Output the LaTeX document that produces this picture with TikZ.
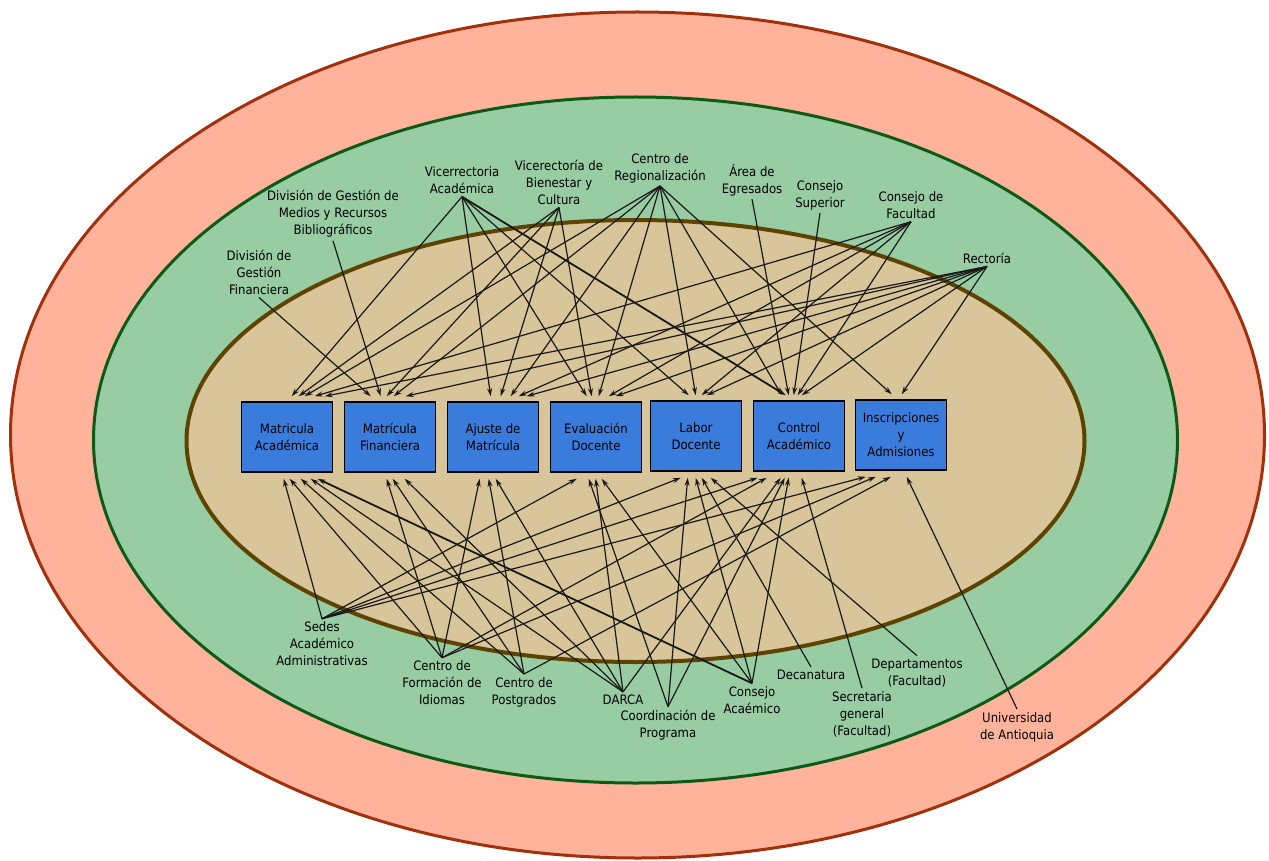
\documentclass[tikz,border=0pt]{standalone}
\usepackage{fontspec}
\setmainfont{DejaVu Sans}[FakeStretch=0.9]
\usetikzlibrary{arrows.meta}
\definecolor{outerfill}{HTML}{FFB39A}
\definecolor{outerline}{HTML}{A3300C}
\definecolor{greenfill}{HTML}{98CCA3}
\definecolor{greenline}{HTML}{0B5A16}
\definecolor{tanfill}{HTML}{D9C59A}
\definecolor{tanline}{HTML}{5E4300}
\definecolor{boxblue}{HTML}{3A7CDB}
\begin{document}
\begin{tikzpicture}[x=1pt,y=-1pt,
  lbl/.style={align=center,font=\fontsize{13}{17}\selectfont,inner sep=3pt,text=black},
  box/.style={draw=black,line width=1.6pt,fill=boxblue,minimum width=91pt,minimum height=70pt,align=center,font=\fontsize{13}{17}\selectfont,text=black},
  arr/.style={-{Stealth[length=8pt,width=5pt]},line width=1.2pt,black!90},
  thickarr/.style={arr,line width=1.8pt}]
\useasboundingbox (0,0) rectangle (1269,861);
\fill[white] (0,0) rectangle (1269,861);
\draw[fill=outerfill,draw=outerline,line width=3pt] (637.5,435) ellipse [x radius=627pt,y radius=423pt];
\draw[fill=greenfill,draw=greenline,line width=3pt] (635.5,440) ellipse [x radius=542pt,y radius=343pt];
\draw[fill=tanfill,draw=tanline,line width=4pt] (635.5,441) ellipse [x radius=449pt,y radius=221pt];

% boxes
\node[box] (b1) at (287,437) {Matricula\\Académica};
\node[box] (b2) at (390,437) {Matrícula\\Financiera};
\node[box] (b3) at (493,437) {Ajuste de\\Matrícula};
\node[box] (b4) at (596,437) {Evaluación\\Docente};
\node[box] (b5) at (696,436) {Labor\\Docente};
\node[box] (b6) at (799,436) {Control\\Académico};
\node[box] (b7) at (901,435) {Inscripciones\\y\\Admisiones};

% top labels
\node[lbl] (dgf) at (259,272) {División de\\Gestión\\Financiera};
\node[lbl] (dgm) at (333,214) {División de Gestión de\\Medios y Recursos\\Bibliográficos};
\node[lbl] (va) at (462,180) {Vicerrectoria\\Académica};
\node[lbl] (vbc) at (559,182) {Vicerectoría de\\Bienestar y\\Cultura};
\node[lbl] (cr) at (660,168) {Centro de\\Regionalización};
\node[lbl] (ae) at (752,180) {Área de\\Egresados};
\node[lbl] (cs) at (820,195) {Consejo\\Superior};
\node[lbl] (cf) at (911,205) {Consejo de\\Facultad};
\node[lbl] (rect) at (987,258) {Rectoría};

% bottom labels
\node[lbl] (sedes) at (322,644) {Sedes\\Académico\\Administrativas};
\node[lbl] (cfi) at (442,683) {Centro de\\Formación de\\Idiomas};
\node[lbl] (cp) at (524,692) {Centro de\\Postgrados};
\node[lbl] (darca) at (623,700) {DARCA};
\node[lbl] (coord) at (668,725) {Coordinación de\\Programa};
\node[lbl] (ca) at (752,700) {Consejo\\Acaémico};
\node[lbl] (dec) at (811,675) {Decanatura};
\node[lbl] (sec) at (862,714) {Secretaria\\general\\(Facultad)};
\node[lbl] (dep) at (917,673) {Departamentos\\(Facultad)};
\node[lbl] (udea) at (1017,727) {Universidad\\de Antioquia};

% top edges
\foreach \s/\b/\o in {va/b1/51, va/b3/44, va/b4/37, va/b5/39,
  vbc/b1/58, vbc/b2/43, vbc/b3/54, vbc/b4/42,
  cr/b1/64, cr/b2/50, cr/b3/64, cr/b4/49, cr/b5/46, cr/b6/29, cr/b7/37,
  dgm/b2/37, dgf/b2/27, ae/b6/36, cs/b6/41,
  cf/b1/74, cf/b3/72, cf/b4/59, cf/b5/52, cf/b6/45,
  rect/b1/84, rect/b2/62, rect/b3/80, rect/b4/66, rect/b5/57, rect/b6/49, rect/b7/47}
  \draw[arr] (\s.south) -- ([xshift=\o pt,yshift=5pt]\b.north west);
\draw[thickarr] (va.south) -- ([xshift=33pt,yshift=5pt]b6.north west);

% bottom edges
\foreach \s/\b/\o in {sedes/b1/43, sedes/b4/27, sedes/b5/31, sedes/b6/5, sedes/b7/11,
  cfi/b1/49, cfi/b2/43, cfi/b3/33, cfi/b6/14, cfi/b7/21,
  cp/b1/60, cp/b2/49, cp/b3/42, cp/b7/36,
  darca/b1/70, darca/b2/61, darca/b3/49, darca/b4/46, darca/b6/28,
  coord/b4/39, coord/b5/38, coord/b6/32,
  ca/b4/52, ca/b5/46, ca/b6/36,
  dec/b5/52, dep/b5/61, sec/b6/49, udea/b7/52}
  \draw[arr] (\s.north) -- ([xshift=\o pt,yshift=-6pt]\b.south west);
\draw[thickarr] (ca.north) -- ([xshift=77pt,yshift=-6pt]b1.south west);
\end{tikzpicture}
\end{document}
